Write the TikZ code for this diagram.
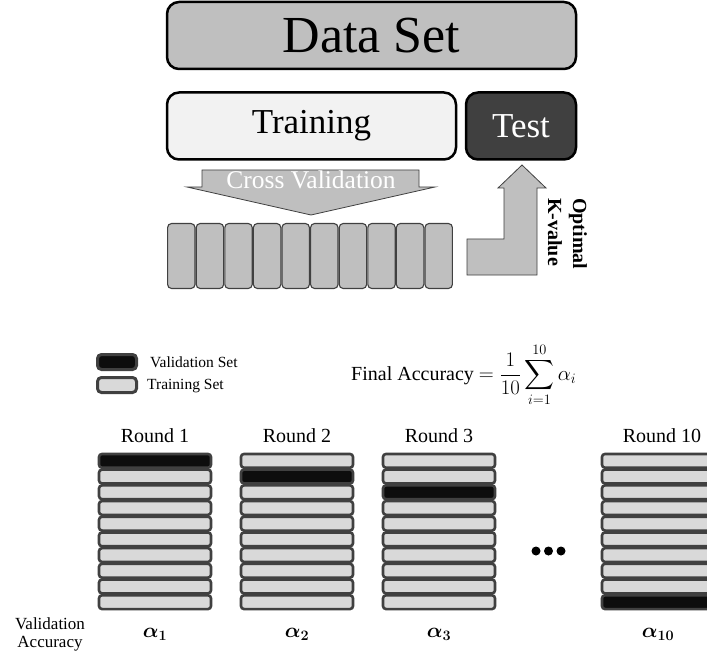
\documentclass[tikz,border=0pt]{standalone}
\usepackage{amsmath,bm}
\usepackage{fontspec}
\setmainfont{Liberation Serif}
\definecolor{dsgray}{HTML}{BFBFBF}
\definecolor{trfill}{HTML}{F2F2F2}
\definecolor{testfill}{HTML}{404040}
\definecolor{edgegray}{HTML}{404040}
\definecolor{rowfill}{HTML}{D9D9D9}
\definecolor{valfill}{HTML}{0D0D0D}
\definecolor{arrowedge}{HTML}{404040}
\tikzset{
  bigbox/.style={draw=black, line width=2.5pt, rounded corners=12pt, inner sep=0pt},
  fold/.style={draw=edgegray, fill=dsgray, line width=1.1pt, rounded corners=4pt,
    minimum width=27.4pt, minimum height=65pt, inner sep=0pt},
  rowbox/.style={draw=edgegray, fill=rowfill, line width=2.6pt, rounded corners=3pt,
    minimum width=112pt, minimum height=13.8pt, inner sep=0pt},
  valrow/.style={rowbox, fill=valfill},
  legbox/.style={draw=edgegray, line width=3pt, rounded corners=4pt,
    minimum width=39pt, minimum height=15pt, inner sep=0pt},
  bigarrow/.style={fill=dsgray, draw=arrowedge, line width=0.8pt},
  roundlbl/.style={font=\fontsize{20}{24}\selectfont},
  alphalbl/.style={font=\fontsize{22}{26}\selectfont},
}
\begin{document}
\begin{tikzpicture}[x=1pt,y=-1pt]
\clip (0,0) rectangle (707,655);
\fill[white] (0,0) rectangle (707,655);

% top boxes
\node[bigbox, fill=dsgray, minimum width=409pt, minimum height=67pt,
  font=\fontsize{52}{56}\selectfont] (data) at (371.5,35.5) {Data Set};
\node[bigbox, fill=trfill, minimum width=289pt, minimum height=67pt,
  font=\fontsize{35}{40}\selectfont] (train) at (311.5,126) {Training};
\node[bigbox, fill=testfill, text=white, minimum width=110pt, minimum height=67pt,
  font=\fontsize{35}{40}\selectfont] (test) at (521,126) {Test};

% cross validation arrow
\draw[bigarrow] (202,170) -- (419,170) -- (419,187) -- (435,187) -- (311,215)
  -- (187,187) -- (202,187) -- cycle;
\node[text=white, font=\fontsize{25.5}{28}\selectfont] (cv) at (311,180) {Cross Validation};

% folds
\foreach \i in {0,...,9} {
  \node[fold] (f\i) at ({167+28.6*\i+14.3},256) {};
}

% L-shaped arrow
\draw[bigarrow] (522,165) -- (546,188) -- (537,188) -- (537,275) -- (467,275)
  -- (467,239) -- (504,239) -- (504,188) -- (498,188) -- cycle;
\node[rotate=-90, anchor=west, align=left, inner sep=0pt,
  font=\bfseries\fontsize{20}{25}\selectfont] (kval) at (567.5,198) {Optimal\\K-value};

% legend
\node[legbox, fill=valfill] (legval) at (117,362) {};
\node[legbox, fill=rowfill] (legtr) at (117,385) {};
\node[anchor=west, inner sep=0pt, font=\fontsize{15.5}{18}\selectfont] (legvalt) at (150,362) {Validation Set};
\node[anchor=west, inner sep=0pt, font=\fontsize{15.5}{18}\selectfont] (legtrt) at (147,386) {Training Set};

% formula
\node[anchor=west, inner sep=0pt, font=\fontsize{20}{24}\selectfont] (formula) at (351,375)
  {Final Accuracy $\displaystyle = \frac{1}{10}\sum_{i=1}^{10}\alpha_i$};

% columns
\foreach \c/\xl/\v/\al in {1/98/0/1, 2/240/1/2, 3/382/2/3, 10/601/9/10} {
  \foreach \r in {0,...,9} {
    \ifnum\r=\v
      \node[valrow] (c\c r\r) at ({\xl+57},{453+15.7*\r+7.85}) {};
    \else
      \node[rowbox] (c\c r\r) at ({\xl+57},{453+15.7*\r+7.85}) {};
    \fi
  }
  \node[alphalbl] (a\c) at ({\xl+57},634) {$\bm{\alpha_{\al}}$};
}
\node[roundlbl] (r1) at (155,436) {Round 1};
\node[roundlbl] (r2) at (297,436) {Round 2};
\node[roundlbl] (r3) at (439,436) {Round 3};
\node[roundlbl] (r10) at (662,436) {Round 10};

% dots
\foreach \d/\dx in {1/536,2/548.5,3/561} {
  \node[circle, fill=black, inner sep=0pt, minimum size=9pt] (dot\d) at (\dx,551) {};
}

% side label
\node[align=center, inner sep=0pt, font=\fontsize{17}{18}\selectfont] (valacc) at (50,634)
  {Validation\\Accuracy};
\end{tikzpicture}
\end{document}
